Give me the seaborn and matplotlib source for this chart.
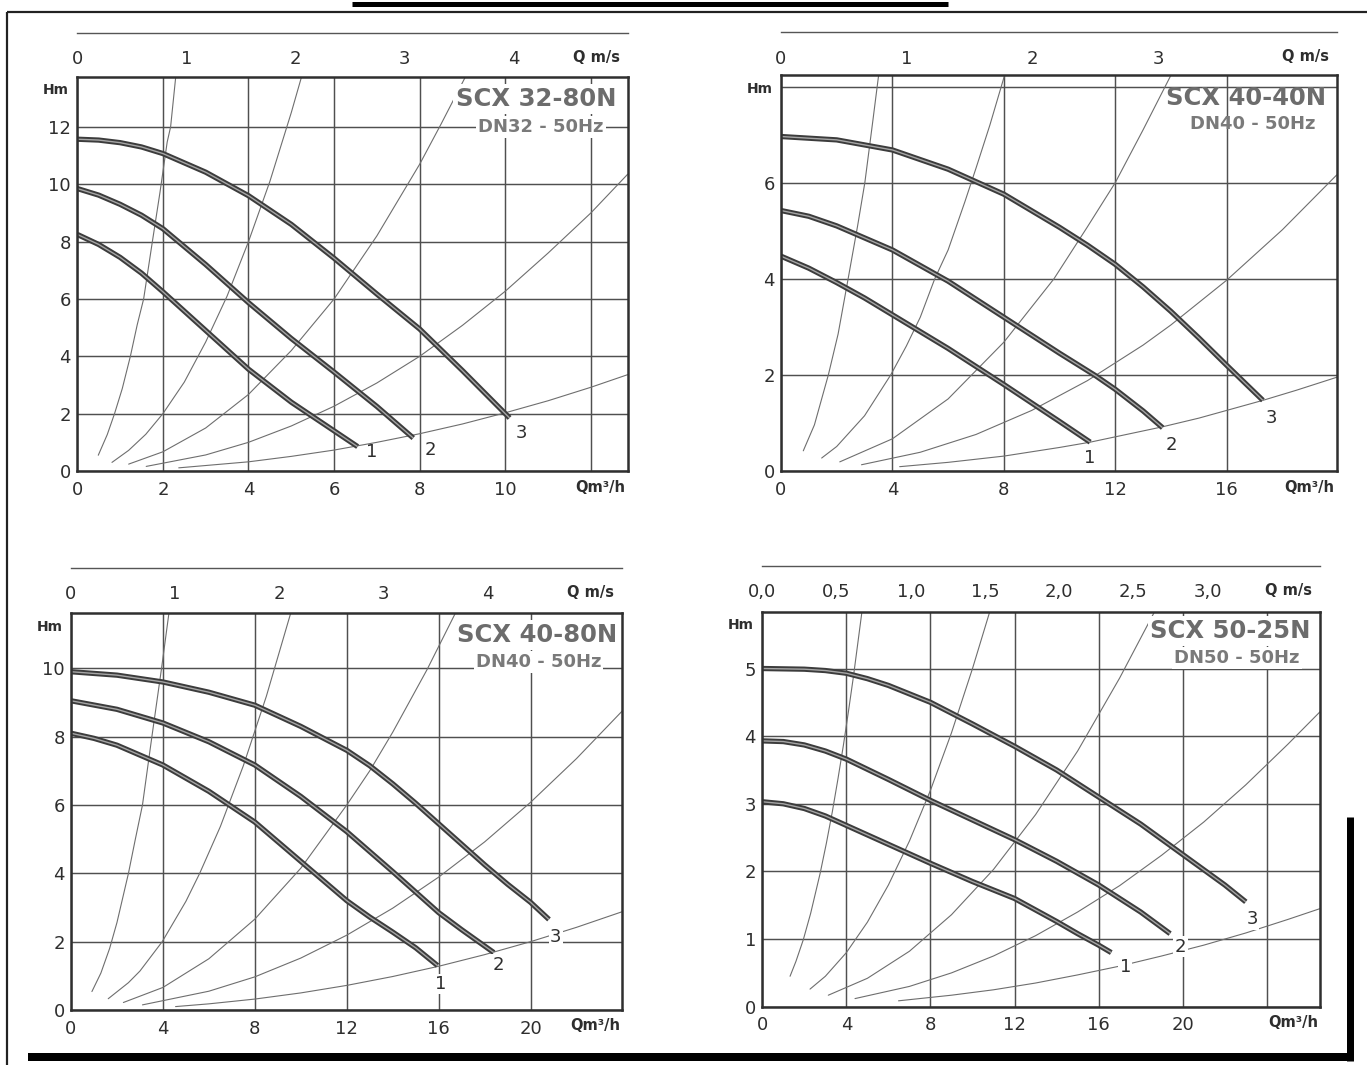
import matplotlib
matplotlib.use("Agg")
import matplotlib.pyplot as plt
import numpy as np
import pandas as pd
import seaborn as sns
from matplotlib.lines import Line2D

sns.set_style("white")
plt.rcParams["font.family"] = ["DejaVu Sans"]

# ------------------------------------------------------------------ data
# Panel 1 : SCX 32-80N
p1_title, p1_sub = "SCX 32-80N", "DN32 - 50Hz"
p1_c1_q = [0, 0.5, 1, 1.5, 2, 3, 4, 5, 6, 6.55]
p1_c1_h = [8.25, 7.9, 7.45, 6.9, 6.25, 4.9, 3.55, 2.4, 1.4, 0.85]
p1_c2_q = [0, 0.5, 1, 1.5, 2, 3, 4, 5, 6, 7, 7.85]
p1_c2_h = [9.85, 9.62, 9.3, 8.92, 8.45, 7.2, 5.87, 4.62, 3.45, 2.25, 1.15]
p1_c3_q = [0, 0.5, 1, 1.5, 2, 3, 4, 5, 6, 7, 8, 9, 10, 10.1]
p1_c3_h = [11.57, 11.54, 11.45, 11.3, 11.07, 10.42, 9.6, 8.6, 7.42, 6.17, 4.95, 3.5, 2.0, 1.85]
p1_sa_q = [0.49, 0.7, 0.87, 1.05, 1.24, 1.4, 1.55, 1.75, 1.93, 2.1, 2.18, 2.3]
p1_sa_h = [0.55, 1.27, 2.0, 2.87, 4.0, 5.1, 6.0, 7.96, 9.7, 11.47, 12.0, 13.75]
p1_sb_q = [0.81, 1.2, 1.6, 2.0, 2.5, 3.0, 3.5, 4.0, 4.5, 5.0, 5.24]
p1_sb_h = [0.3, 0.72, 1.28, 2.0, 3.1, 4.5, 6.1, 8.0, 10.1, 12.5, 13.75]
p1_sc_q = [1.2, 2, 3, 4, 5, 6, 7, 8, 8.5, 9.07]
p1_sc_h = [0.24, 0.67, 1.5, 2.67, 4.2, 6.0, 8.2, 10.7, 12.1, 13.75]
p1_sd_q = [1.61, 3, 4, 5, 6, 7, 8, 9, 10, 11, 12, 12.86]
p1_sd_h = [0.16, 0.56, 1.0, 1.57, 2.26, 3.07, 4.0, 5.08, 6.27, 7.6, 9.0, 10.35]
p1_se_q = [2.37, 4, 5, 6, 7, 8, 9, 10, 11, 12, 12.86]
p1_se_h = [0.11, 0.32, 0.51, 0.73, 1.0, 1.3, 1.64, 2.03, 2.45, 2.92, 3.36]
p1_lab_q = [6.88, 8.25, 10.38]
p1_lab_h = [0.66, 0.72, 1.34]

# Panel 2 : SCX 40-40N
p2_title, p2_sub = "SCX 40-40N", "DN40 - 50Hz"
p2_c1_q = [0, 1, 2, 3, 4, 6, 8, 10, 11.1]
p2_c1_h = [4.47, 4.22, 3.92, 3.6, 3.25, 2.55, 1.8, 1.03, 0.6]
p2_c2_q = [0, 1, 2, 4, 6, 8, 10, 11.3, 12, 13, 13.7]
p2_c2_h = [5.42, 5.3, 5.1, 4.6, 3.95, 3.2, 2.45, 1.98, 1.7, 1.25, 0.9]
p2_c3_q = [0, 2, 4, 6, 8, 10, 11, 12, 13, 14, 15, 16, 17.3]
p2_c3_h = [6.96, 6.89, 6.68, 6.28, 5.76, 5.07, 4.7, 4.3, 3.83, 3.32, 2.77, 2.2, 1.47]
p2_sa_q = [0.8, 1.2, 1.7, 2.05, 2.41, 2.75, 3.01, 3.3, 3.51]
p2_sa_h = [0.42, 0.96, 2.0, 2.85, 4.0, 5.1, 6.0, 7.3, 8.26]
p2_sb_q = [1.46, 2, 3, 3.94, 4.5, 5, 5.52, 6, 6.6, 7, 7.5, 8.04]
p2_sb_h = [0.27, 0.51, 1.15, 2.0, 2.6, 3.2, 4.0, 4.6, 5.6, 6.3, 7.2, 8.26]
p2_sc_q = [2.11, 4, 6, 8, 9.8, 11, 12, 13, 14.02]
p2_sc_h = [0.19, 0.67, 1.5, 2.68, 4.0, 5.08, 6.0, 7.1, 8.26]
p2_sd_q = [2.89, 5, 7, 9, 11, 13, 14, 16, 18, 19.95]
p2_sd_h = [0.13, 0.39, 0.76, 1.26, 1.88, 2.62, 3.04, 3.97, 5.02, 6.16]
p2_se_q = [4.26, 6, 8, 10, 11.1, 13.7, 15, 17.3, 18.5, 19.95]
p2_se_h = [0.09, 0.18, 0.31, 0.49, 0.6, 0.92, 1.1, 1.47, 1.68, 1.95]
p2_lab_q = [11.09, 14.0, 17.6]
p2_lab_h = [0.27, 0.54, 1.1]

# Panel 3 : SCX 40-80N
p3_title, p3_sub = "SCX 40-80N", "DN40 - 50Hz"
p3_c1_q = [0, 1, 2, 4, 6, 8, 10, 12, 13, 14, 15, 15.95]
p3_c1_h = [8.1, 7.95, 7.75, 7.17, 6.4, 5.5, 4.35, 3.2, 2.72, 2.28, 1.82, 1.3]
p3_c2_q = [0, 2, 4, 6, 8, 10, 12, 14, 16, 17, 18.4]
p3_c2_h = [9.05, 8.8, 8.4, 7.85, 7.17, 6.25, 5.22, 4.05, 2.85, 2.35, 1.68]
p3_c3_q = [0, 2, 4, 6, 8, 10, 12, 13, 14, 15, 16, 17, 18, 19, 20, 20.8]
p3_c3_h = [9.9, 9.8, 9.6, 9.3, 8.92, 8.3, 7.6, 7.15, 6.62, 6.05, 5.45, 4.85, 4.25, 3.68, 3.15, 2.65]
p3_sa_q = [0.91, 1.3, 1.68, 2.0, 2.5, 2.8, 3.11, 3.52, 3.94, 4.27]
p3_sa_h = [0.54, 1.08, 1.8, 2.56, 4.0, 5.0, 6.0, 8.0, 10.0, 11.66]
p3_sb_q = [1.62, 2.5, 3.0, 3.97, 5, 5.6, 6.5, 7.5, 8.5, 9.58]
p3_sb_h = [0.33, 0.8, 1.14, 2.0, 3.18, 4.0, 5.37, 7.15, 9.18, 11.66]
p3_sc_q = [2.28, 4, 6, 8, 10, 12, 13, 14, 15.5, 16.76]
p3_sc_h = [0.22, 0.66, 1.5, 2.66, 4.15, 6.0, 7.0, 8.13, 9.97, 11.66]
p3_sd_q = [3.11, 6, 8, 10, 12, 14, 16, 18, 20, 22, 24]
p3_sd_h = [0.15, 0.55, 0.97, 1.52, 2.19, 2.98, 3.89, 4.92, 6.08, 7.36, 8.76]
p3_se_q = [4.55, 6, 8, 10, 12, 14, 16, 18, 20, 22, 24]
p3_se_h = [0.1, 0.18, 0.32, 0.5, 0.72, 0.98, 1.28, 1.62, 2.0, 2.42, 2.88]
p3_lab_q = [16.1, 18.6, 21.1]
p3_lab_h = [0.76, 1.32, 2.14]

# Panel 4 : SCX 50-25N
p4_title, p4_sub = "SCX 50-25N", "DN50 - 50Hz"
p4_c1_q = [0, 1, 2, 3, 4, 6, 8, 10, 12, 14, 15, 16, 16.6]
p4_c1_h = [3.03, 3.0, 2.93, 2.82, 2.68, 2.4, 2.12, 1.85, 1.6, 1.26, 1.08, 0.91, 0.8]
p4_c2_q = [0, 1, 2, 3, 4, 6, 8, 10, 12, 14, 16, 18, 19.4]
p4_c2_h = [3.93, 3.92, 3.87, 3.78, 3.66, 3.36, 3.05, 2.76, 2.47, 2.15, 1.8, 1.4, 1.08]
p4_c3_q = [0, 2, 3, 4, 5, 6, 8, 10, 12, 14, 16, 18, 20, 22, 23]
p4_c3_h = [5.0, 4.99, 4.97, 4.93, 4.85, 4.75, 4.5, 4.18, 3.85, 3.5, 3.1, 2.7, 2.25, 1.8, 1.55]
p4_sa_q = [1.32, 1.6, 1.95, 2.3, 2.75, 3.05, 3.33, 3.6, 3.86, 4.1, 4.33, 4.74]
p4_sa_h = [0.45, 0.67, 0.99, 1.38, 1.97, 2.42, 2.88, 3.37, 3.87, 4.37, 4.87, 5.84]
p4_sb_q = [2.27, 3, 4, 5, 6, 7, 8, 9, 10, 10.82]
p4_sb_h = [0.26, 0.45, 0.8, 1.25, 1.8, 2.45, 3.2, 4.05, 5.0, 5.84]
p4_sc_q = [3.14, 5, 7, 9, 11, 13, 15, 17, 18.66]
p4_sc_h = [0.17, 0.42, 0.82, 1.36, 2.03, 2.84, 3.78, 4.86, 5.84]
p4_sd_q = [4.41, 7, 9, 11, 13, 15, 17, 19, 21, 23, 25, 26.53]
p4_sd_h = [0.12, 0.3, 0.5, 0.75, 1.05, 1.4, 1.79, 2.24, 2.73, 3.28, 3.88, 4.36]
p4_se_q = [6.48, 9, 11, 13, 15, 17, 19, 21, 23, 25, 26.53]
p4_se_h = [0.087, 0.17, 0.25, 0.35, 0.47, 0.6, 0.75, 0.91, 1.09, 1.29, 1.45]
p4_lab_q = [17.27, 19.9, 23.3]
p4_lab_h = [0.59, 0.89, 1.29]

curve_names = ["1", "2", "3"]

# axis tick labels
p1_xticks = [0, 2, 4, 6, 8, 10, 12]
p1_xlabels = ["0", "2", "4", "6", "8", "10", ""]
p1_yticks = [0, 2, 4, 6, 8, 10, 12]
p1_ylabels = ["0", "2", "4", "6", "8", "10", "12"]
p1_ms_ticks = [0, 1, 2, 3, 4, 5]
p1_ms_labels = ["0", "1", "2", "3", "4", ""]
p1_ms_factor = 2.55   # m3/h per m/s (scale of top axis)

p2_xticks = [0, 4, 8, 12, 16]
p2_xlabels = ["0", "4", "8", "12", "16"]
p2_yticks = [0, 2, 4, 6, 8]
p2_ylabels = ["0", "2", "4", "6", ""]
p2_ms_ticks = [0, 1, 2, 3, 4]
p2_ms_labels = ["0", "1", "2", "3", ""]
p2_ms_factor = 4.52

p3_xticks = [0, 4, 8, 12, 16, 20]
p3_xlabels = ["0", "4", "8", "12", "16", "20"]
p3_yticks = [0, 2, 4, 6, 8, 10]
p3_ylabels = ["0", "2", "4", "6", "8", "10"]
p3_ms_ticks = [0, 1, 2, 3, 4, 5]
p3_ms_labels = ["0", "1", "2", "3", "4", ""]
p3_ms_factor = 4.53

p4_xticks = [0, 4, 8, 12, 16, 20, 24]
p4_xlabels = ["0", "4", "8", "12", "16", "20", ""]
p4_yticks = [0, 1, 2, 3, 4, 5]
p4_ylabels = ["0", "1", "2", "3", "4", "5"]
p4_ms_ticks = [0, 0.5, 1.0, 1.5, 2.0, 2.5, 3.0, 3.5]
p4_ms_labels = ["0,0", "0,5", "1,0", "1,5", "2,0", "2,5", "3,0", ""]
p4_ms_factor = 7.06

# ------------------------------------------------------------------ layout
W, H = 1367, 1065
fig = plt.figure(figsize=(W / 100, H / 100), dpi=100)
fig.patch.set_facecolor("white")


def px_rect(l, t, r, b):
    return [l / W, 1 - b / H, (r - l) / W, (b - t) / H]


def make_df(pairs):
    frames = []
    for i, (q, h) in enumerate(pairs):
        frames.append(pd.DataFrame({"Q": q, "H": h, "curve": i}))
    return pd.concat(frames, ignore_index=True)


GRID = "#4f4f4f"
TXT = "#2e2e2e"
TITLE_C = "#6c6c6c"


def panel(box, line_y, xlim, ylim, pumps, systems, labq, labh,
          xticks, xlabels, yticks, ylabels, ms_ticks, ms_labels, ms_factor,
          title, sub, t_off, s_off, hm_dy, boxed, lab_boxed):
    l, t, r, b = box
    ax = fig.add_axes(px_rect(l, t, r, b))
    ax.set_xlim(*xlim)
    ax.set_ylim(*ylim)
    ax.set_axisbelow(True)

    sdf = make_df(systems)
    sns.lineplot(data=sdf, x="Q", y="H", units="curve", estimator=None,
                 sort=False, color="#6e6e6e", lw=0.8, ax=ax, legend=False)
    pdf = make_df(pumps)
    sns.lineplot(data=pdf, x="Q", y="H", units="curve", estimator=None,
                 sort=False, color="#3c3c3c", lw=3.8, ax=ax, legend=False,
                 solid_capstyle="butt", solid_joinstyle="round")
    sns.lineplot(data=pdf, x="Q", y="H", units="curve", estimator=None,
                 sort=False, color="#a6a6a6", lw=1.0, ax=ax, legend=False,
                 solid_capstyle="butt", solid_joinstyle="round")

    ax.set_xticks(xticks)
    ax.set_xticklabels(xlabels)
    ax.set_yticks(yticks)
    ax.set_yticklabels(ylabels)
    ax.tick_params(axis="x", length=0, pad=7, labelsize=13, labelcolor=TXT)
    ax.tick_params(axis="y", length=0, pad=4.5, labelsize=13, labelcolor=TXT)
    ax.grid(True, color=GRID, lw=1.05)
    ax.set_xlabel("")
    ax.set_ylabel("")
    for s in ax.spines.values():
        s.set_visible(True)
        s.set_color("#2f2f2f")
        s.set_linewidth(1.8)

    bb = dict(boxstyle="square,pad=0.12", fc="white", ec="none") if boxed else None
    ax.annotate(title, xy=(1, 1), xycoords="axes fraction", xytext=t_off,
                textcoords="offset pixels", ha="right", va="center",
                fontsize=17.5, fontweight="bold", color=TITLE_C, bbox=bb, zorder=5)
    ax.annotate(sub, xy=(1, 1), xycoords="axes fraction", xytext=s_off,
                textcoords="offset pixels", ha="right", va="center",
                fontsize=13, fontweight="bold", color="#7a7a7a", bbox=bb, zorder=5)

    lb = dict(boxstyle="square,pad=0.08", fc="white", ec="none") if lab_boxed else None
    for name, q, h in zip(curve_names, labq, labh):
        ax.text(q, h, name, ha="center", va="center", fontsize=13, color=TXT,
                bbox=lb, zorder=6)

    ax.annotate("Hm", xy=(0, 1), xycoords="axes fraction", xytext=(-8.5, hm_dy),
                textcoords="offset pixels", ha="right", va="center",
                fontsize=10, fontweight="bold", color=TXT)
    ax.annotate("Qm³/h", xy=(1, 0), xycoords="axes fraction", xytext=(-2, -16),
                textcoords="offset pixels", ha="right", va="center",
                fontsize=10.5, fontweight="bold", color=TXT)

    # top velocity axis
    tax = fig.add_axes(px_rect(l, line_y - 2, r, line_y))
    tax.set_xlim(*xlim)
    tax.set_ylim(0, 1)
    tax.patch.set_visible(False)
    for s in ["top", "left", "right"]:
        tax.spines[s].set_visible(False)
    tax.spines["bottom"].set_color("#555555")
    tax.spines["bottom"].set_linewidth(1.0)
    tax.set_yticks([])
    tax.set_xticks([v * ms_factor for v in ms_ticks])
    tax.set_xticklabels(ms_labels)
    tax.tick_params(axis="x", direction="out", length=4, width=1,
                    color="#555555", pad=8.5, labelsize=13, labelcolor=TXT)
    tax.annotate("Q m/s", xy=(1, 0), xycoords="axes fraction", xytext=(-8, -24.5),
                 textcoords="offset pixels", ha="right", va="center",
                 fontsize=10.5, fontweight="bold", color=TXT)
    return ax


panel((77.3, 76.7, 627.7, 471), 33, (0, 12.86), (0, 13.75),
      [(p1_c1_q, p1_c1_h), (p1_c2_q, p1_c2_h), (p1_c3_q, p1_c3_h)],
      [(p1_sa_q, p1_sa_h), (p1_sb_q, p1_sb_h), (p1_sc_q, p1_sc_h),
       (p1_sd_q, p1_sd_h), (p1_se_q, p1_se_h)],
      p1_lab_q, p1_lab_h, p1_xticks, p1_xlabels, p1_yticks, p1_ylabels,
      p1_ms_ticks, p1_ms_labels, p1_ms_factor, p1_title, p1_sub,
      (-11, -22), (-24, -50.5), -13, True, False)

panel((781, 75, 1336.7, 471), 32.3, (0, 19.95), (0, 8.24),
      [(p2_c1_q, p2_c1_h), (p2_c2_q, p2_c2_h), (p2_c3_q, p2_c3_h)],
      [(p2_sa_q, p2_sa_h), (p2_sb_q, p2_sb_h), (p2_sc_q, p2_sc_h),
       (p2_sd_q, p2_sd_h), (p2_se_q, p2_se_h)],
      p2_lab_q, p2_lab_h, p2_xticks, p2_xlabels, p2_yticks, p2_ylabels,
      p2_ms_ticks, p2_ms_labels, p2_ms_factor, p2_title, p2_sub,
      (-10.5, -23.3), (-21.5, -49), -14.3, False, False)

panel((71, 613.3, 622.3, 1010), 567.7, (0, 23.99), (0, 11.61),
      [(p3_c1_q, p3_c1_h), (p3_c2_q, p3_c2_h), (p3_c3_q, p3_c3_h)],
      [(p3_sa_q, p3_sa_h), (p3_sb_q, p3_sb_h), (p3_sc_q, p3_sc_h),
       (p3_sd_q, p3_sd_h), (p3_se_q, p3_se_h)],
      p3_lab_q, p3_lab_h, p3_xticks, p3_xlabels, p3_yticks, p3_ylabels,
      p3_ms_ticks, p3_ms_labels, p3_ms_factor, p3_title, p3_sub,
      (-5, -21.6), (-21, -49), -14, True, True)

panel((762.3, 611.7, 1320, 1006.7), 566, (0, 26.53), (0, 5.84),
      [(p4_c1_q, p4_c1_h), (p4_c2_q, p4_c2_h), (p4_c3_q, p4_c3_h)],
      [(p4_sa_q, p4_sa_h), (p4_sb_q, p4_sb_h), (p4_sc_q, p4_sc_h),
       (p4_sd_q, p4_sd_h), (p4_se_q, p4_se_h)],
      p4_lab_q, p4_lab_h, p4_xticks, p4_xlabels, p4_yticks, p4_ylabels,
      p4_ms_ticks, p4_ms_labels, p4_ms_factor, p4_title, p4_sub,
      (-9, -19.5), (-20, -46), -13.5, True, True)

# ------------------------------------------------------------------ page frame
def fline(x0, y0, x1, y1, lw_px, color="#111111"):
    fig.add_artist(Line2D([x0 / W, x1 / W], [1 - y0 / H, 1 - y1 / H],
                          transform=fig.transFigure, lw=lw_px * 0.72,
                          color=color, solid_capstyle="butt"))


fline(352, 3.5, 948, 3.5, 5, "#000000")      # underline of cut heading
fline(7, 12, 1367, 12, 2.2, "#222222")       # top rule
fline(7, 12, 7, 1065, 2.2, "#222222")        # left rule
fline(28, 1057, 1353, 1057, 8, "#000000")    # bottom bar
fline(1349.5, 817, 1349.5, 1061, 7, "#000000")  # right bar

fig.savefig("out.png", dpi=100, facecolor="white")
